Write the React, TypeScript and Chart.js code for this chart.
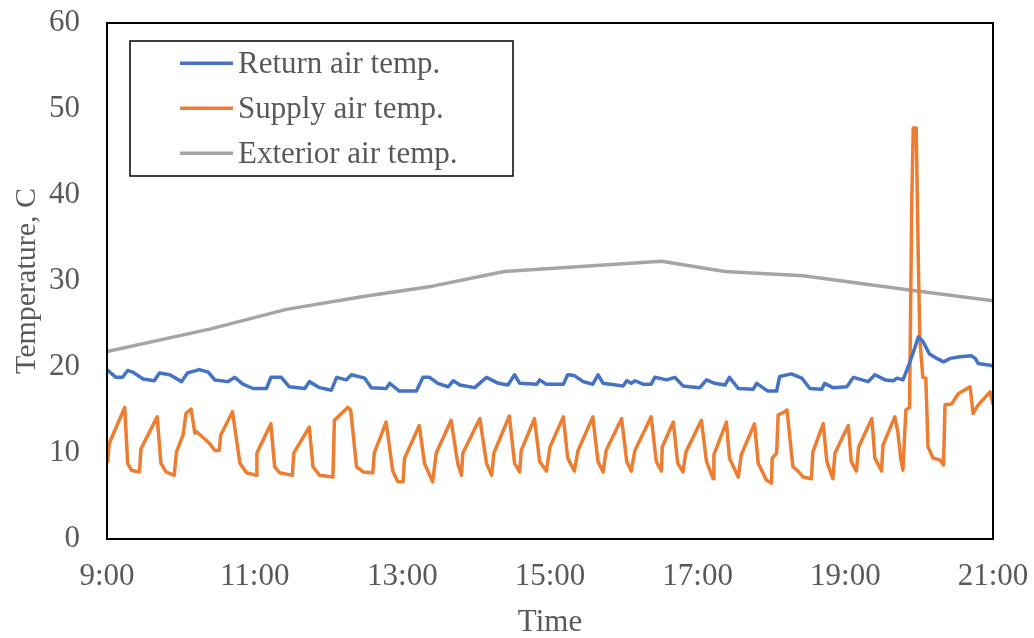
import React, { useEffect, useRef } from "react";
import { Chart, registerables } from "chart.js";

Chart.register(...registerables);

// ---- Data (hours of the day, °C) ----
const seriesLabels = ["Return air temp.", "Supply air temp.", "Exterior air temp."];
const seriesColors = ["#4472C4", "#ED7D31", "#A5A5A5"];

const xTickValues = [9, 11, 13, 15, 17, 19, 21];
const xTickLabels = ["9:00", "11:00", "13:00", "15:00", "17:00", "19:00", "21:00"];
const yTickValues = [0, 10, 20, 30, 40, 50, 60];

const returnTimes = [9.01, 9.12, 9.21, 9.28, 9.35, 9.49, 9.64, 9.71, 9.85, 10.01,
  10.09, 10.25, 10.37, 10.46, 10.64, 10.73, 10.84, 10.98, 11.16, 11.22,
  11.36, 11.47, 11.68, 11.74, 11.88, 12.04, 12.11, 12.24, 12.31, 12.49,
  12.58, 12.78, 12.83, 12.96, 13.19, 13.28, 13.37, 13.48, 13.62, 13.69,
  13.78, 13.98, 14.14, 14.30, 14.43, 14.52, 14.59, 14.82, 14.86, 14.95,
  15.18, 15.24, 15.33, 15.45, 15.58, 15.65, 15.72, 15.99, 16.04, 16.10,
  16.15, 16.26, 16.37, 16.42, 16.58, 16.69, 16.80, 16.89, 17.03, 17.12,
  17.23, 17.37, 17.43, 17.55, 17.75, 17.80, 17.95, 18.07, 18.11, 18.27,
  18.41, 18.52, 18.68, 18.72, 18.83, 19.02, 19.11, 19.31, 19.40, 19.54,
  19.65, 19.70, 19.78, 19.85, 19.92, 19.99, 20.05, 20.14, 20.24, 20.33,
  20.42, 20.55, 20.71, 20.76, 20.80, 20.96, 21.00];
const returnTemps = [19.6, 18.8, 18.8, 19.6, 19.4, 18.6, 18.4, 19.3, 19.1, 18.3,
  19.3, 19.7, 19.4, 18.5, 18.3, 18.8, 18.0, 17.5, 17.5, 18.8,
  18.8, 17.7, 17.5, 18.3, 17.6, 17.3, 18.8, 18.5, 19.1, 18.7,
  17.6, 17.5, 18.1, 17.2, 17.2, 18.8, 18.8, 18.1, 17.7, 18.4,
  17.9, 17.6, 18.8, 18.1, 17.9, 19.1, 18.1, 18.0, 18.5, 18.0,
  18.0, 19.1, 19.0, 18.3, 18.0, 19.1, 18.1, 17.8, 18.4, 18.1,
  18.4, 18.0, 18.0, 18.8, 18.5, 18.8, 17.8, 17.7, 17.6, 18.5,
  18.1, 17.9, 18.8, 17.5, 17.4, 18.1, 17.2, 17.2, 18.9, 19.2,
  18.7, 17.5, 17.4, 18.1, 17.6, 17.7, 18.8, 18.3, 19.1, 18.5,
  18.4, 18.7, 18.5, 20.0, 21.7, 23.5, 23.0, 21.5, 21.0, 20.6,
  21.0, 21.2, 21.3, 21.0, 20.4, 20.2, 20.1];

const supplyTimes = [9.01, 9.03, 9.24, 9.28, 9.33, 9.44, 9.46, 9.68, 9.73, 9.80,
  9.91, 9.94, 10.03, 10.07, 10.14, 10.19, 10.21, 10.39, 10.46, 10.52,
  10.54, 10.70, 10.80, 10.89, 11.02, 11.03, 11.22, 11.27, 11.34, 11.51,
  11.53, 11.74, 11.79, 11.88, 12.06, 12.08, 12.15, 12.26, 12.30, 12.38,
  12.47, 12.60, 12.62, 12.78, 12.87, 12.94, 13.01, 13.03, 13.23, 13.30,
  13.41, 13.46, 13.66, 13.75, 13.80, 13.82, 14.05, 14.14, 14.21, 14.24,
  14.45, 14.52, 14.59, 14.61, 14.79, 14.86, 14.95, 15.00, 15.18, 15.24,
  15.33, 15.38, 15.58, 15.65, 15.72, 15.76, 15.97, 16.04, 16.10, 16.15,
  16.37, 16.44, 16.51, 16.52, 16.67, 16.73, 16.80, 16.84, 17.05, 17.12,
  17.21, 17.22, 17.39, 17.43, 17.55, 17.59, 17.77, 17.82, 17.93, 18.00,
  18.01, 18.07, 18.09, 18.18, 18.21, 18.27, 18.29, 18.36, 18.43, 18.54,
  18.56, 18.70, 18.75, 18.83, 18.86, 19.04, 19.08, 19.15, 19.18, 19.36,
  19.40, 19.49, 19.51, 19.67, 19.71, 19.75, 19.78, 19.82, 19.87, 19.90,
  19.92, 19.96, 19.99, 20.01, 20.05, 20.09, 20.12, 20.19, 20.28, 20.33,
  20.35, 20.44, 20.53, 20.69, 20.73, 20.80, 20.96, 21.00];
const supplyTemps = [9.0, 11.1, 15.3, 8.8, 8.0, 7.8, 10.5, 14.2, 8.8, 7.8,
  7.4, 10.1, 12.1, 14.6, 15.1, 12.3, 12.5, 11.1, 10.3, 10.3,
  12.1, 14.8, 8.8, 7.7, 7.4, 10.0, 13.4, 8.4, 7.7, 7.4,
  10.0, 13.0, 8.4, 7.4, 7.2, 13.8, 14.4, 15.3, 15.0, 8.4,
  7.8, 7.7, 10.0, 13.6, 7.9, 6.65, 6.65, 9.4, 13.2, 8.8,
  6.65, 10.0, 13.8, 8.8, 7.4, 10.0, 14.0, 8.8, 7.4, 10.0,
  14.3, 8.8, 7.8, 10.3, 14.0, 9.0, 7.9, 10.7, 14.2, 9.4,
  7.9, 10.3, 14.2, 9.0, 7.8, 10.3, 14.0, 9.0, 7.9, 10.3,
  14.2, 9.0, 7.9, 10.7, 13.6, 8.8, 7.8, 10.1, 13.8, 9.0,
  7.0, 9.8, 13.6, 9.4, 7.2, 9.8, 13.4, 8.8, 6.85, 6.5,
  9.4, 10.0, 14.4, 14.8, 15.0, 10.0, 8.4, 7.9, 7.2, 7.0,
  10.1, 13.4, 9.0, 7.0, 10.0, 13.2, 9.0, 7.9, 10.7, 14.0,
  9.4, 7.9, 10.9, 14.2, 12.5, 9.4, 8.0, 15.0, 15.3, 39.3,
  47.8, 47.8, 31.6, 23.1, 18.8, 18.7, 10.7, 9.4, 9.2, 8.6,
  15.6, 15.7, 16.9, 17.7, 14.6, 15.6, 17.1, 15.7];

const exteriorTimes = [9.0, 10.39, 11.43, 12.47, 13.41, 14.38, 16.51, 17.37, 18.43, 19.92, 21.0];
const exteriorTemps = [21.8, 24.4, 26.7, 28.2, 29.4, 31.1, 32.3, 31.1, 30.6, 28.9, 27.7];

const FONT_FAMILY = '"Liberation Serif", "Times New Roman", serif';
const TEXT_COLOR = "#595959";

const toPoints = (xs: number[], ys: number[]) => xs.map((x, i) => ({ x, y: ys[i] }));

const zeroScalePadding = (scale: any) => {
  scale.paddingTop = 0;
  scale.paddingBottom = 0;
  scale.paddingLeft = 0;
  scale.paddingRight = 0;
};

const plotFrame = {
  id: "plotFrame",
  afterDatasetsDraw(chart: any) {
    const { ctx, chartArea } = chart;
    ctx.save();
    ctx.strokeStyle = "#000";
    ctx.lineWidth = 2;
    ctx.strokeRect(chartArea.left, chartArea.top, chartArea.right - chartArea.left, chartArea.bottom - chartArea.top);
    ctx.restore();
  },
};

const boxedLegend = {
  id: "boxedLegend",
  afterDraw(chart: any) {
    const { ctx, chartArea } = chart;
    const x0 = chartArea.left + 23;
    const y0 = chartArea.top + 18;
    const w = 383;
    const h = 135;
    ctx.save();
    ctx.fillStyle = "#fff";
    ctx.fillRect(x0, y0, w, h);
    ctx.strokeStyle = "#000";
    ctx.lineWidth = 1.5;
    ctx.strokeRect(x0, y0, w, h);
    ctx.font = `31px ${FONT_FAMILY}`;
    ctx.textBaseline = "alphabetic";
    ctx.textAlign = "left";
    chart.data.datasets.forEach((ds: any, i: number) => {
      const cy = y0 + 22.3 + i * 45;
      ctx.strokeStyle = ds.borderColor;
      ctx.lineWidth = 3.5;
      ctx.beginPath();
      ctx.moveTo(x0 + 50, cy);
      ctx.lineTo(x0 + 103, cy);
      ctx.stroke();
      ctx.fillStyle = TEXT_COLOR;
      ctx.fillText(ds.label, x0 + 108, cy + 10);
    });
    ctx.restore();
  },
};

export default function App() {
  const canvasRef = useRef<HTMLCanvasElement | null>(null);

  useEffect(() => {
    document.body.style.margin = "0";
    const canvas = canvasRef.current;
    if (!canvas) return;
    const seriesX = [returnTimes, supplyTimes, exteriorTimes];
    const seriesY = [returnTemps, supplyTemps, exteriorTemps];
    const chart = new Chart(canvas, {
      type: "line",
      data: {
        datasets: seriesLabels.map((label, i) => ({
          label,
          data: toPoints(seriesX[i], seriesY[i]),
          borderColor: seriesColors[i],
          backgroundColor: seriesColors[i],
          borderWidth: 3.5,
          pointRadius: 0,
          tension: 0,
          borderJoinStyle: "round" as const,
          borderCapStyle: "round" as const,
          fill: false,
        })),
      },
      options: {
        animation: false,
        responsive: false,
        maintainAspectRatio: false,
        layout: { padding: { top: 23, right: 41, left: 0, bottom: 0 } },
        plugins: {
          legend: { display: false },
          tooltip: { enabled: false },
        },
        scales: {
          x: {
            type: "linear",
            min: 9,
            max: 21,
            grid: { display: false, drawTicks: false },
            border: { display: false },
            afterBuildTicks: (scale: any) => {
              scale.ticks = xTickValues.map((v) => ({ value: v }));
            },
            afterFit: (scale: any) => {
              scale.height = 99;
              zeroScalePadding(scale);
            },
            ticks: {
              padding: 19,
              maxRotation: 0,
              autoSkip: false,
              color: TEXT_COLOR,
              font: { family: FONT_FAMILY, size: 31 },
              callback: (v: any) => {
                const idx = xTickValues.indexOf(Number(v));
                return idx >= 0 ? xTickLabels[idx] : "";
              },
            },
            title: {
              display: true,
              text: "Time",
              color: TEXT_COLOR,
              font: { family: FONT_FAMILY, size: 31, lineHeight: 1 },
              padding: { top: 0, bottom: 0 },
            },
          },
          y: {
            type: "linear",
            min: 0,
            max: 60,
            grid: { display: false, drawTicks: false },
            border: { display: false },
            afterBuildTicks: (scale: any) => {
              scale.ticks = yTickValues.map((v) => ({ value: v }));
            },
            afterFit: (scale: any) => {
              scale.width = 107;
              zeroScalePadding(scale);
            },
            ticks: {
              padding: 27,
              color: TEXT_COLOR,
              font: { family: FONT_FAMILY, size: 31 },
            },
            title: {
              display: true,
              text: "Temperature, C",
              color: TEXT_COLOR,
              font: { family: FONT_FAMILY, size: 30, lineHeight: 1.2 },
              padding: { top: 9, bottom: 0 },
            },
          },
        },
      },
      plugins: [plotFrame, boxedLegend],
    });
    return () => chart.destroy();
  }, []);

  return (
    <div style={{ width: 1034, height: 638, position: "relative" }}>
      <canvas ref={canvasRef} width={1034} height={638} style={{ display: "block" }} />
    </div>
  );
}
